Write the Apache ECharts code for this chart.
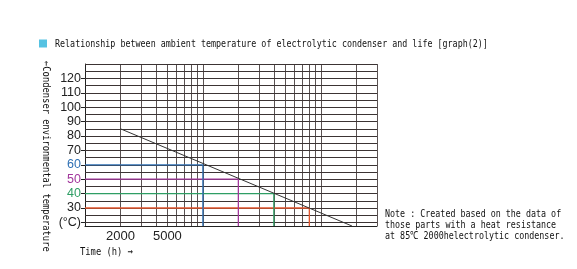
<!DOCTYPE html>
<html>
<head>
<meta charset="utf-8">
<script src="https://cdn.jsdelivr.net/npm/echarts@6/dist/echarts.min.js"></script>
<style>
  html, body { margin: 0; padding: 0; background: #fff; }
  #chart { width: 577px; height: 269px; }
</style>
</head>
<body>
<div id="chart"></div>
<script>
// axis ranges
const TIME_MIN = 1000
const TIME_MAX = 300000
const TEMP_MIN = 17.5
const TEMP_MAX = 130

// grid lines (log-spaced hours, 5 degree steps)
const X_GRID = [2000, 3000, 4000, 5000, 6000, 7000, 8000, 9000, 10000,
  20000, 30000, 40000, 50000, 60000, 70000, 80000, 90000, 100000, 200000, 300000]
const Y_GRID = [20, 25, 30, 35, 40, 45, 50, 55, 60, 65, 70, 75, 80, 85, 90, 95,
  100, 105, 110, 115, 120, 125, 130]

// tick labels
const X_LABELS = [2000, 5000]
const Y_LABELS = [20, 30, 40, 50, 60, 70, 80, 90, 100, 110, 120]

// life line: 85C / 2000h downwards
const LIFE_LINE = [[2000, 85], [184000, 17.5]]

// read-off guides [hours, temp]
const GUIDE_60 = [[1000, 60], [10000, 60], [10000, 17.5]]
const GUIDE_50 = [[1000, 50], [20000, 50], [20000, 17.5]]
const GUIDE_40 = [[1000, 40], [40000, 40], [40000, 17.5]]
const GUIDE_30 = [[1000, 30], [80000, 30], [80000, 17.5]]

const MONO = '"DejaVu Sans Mono", "Liberation Mono", monospace'

function labelColor(v) {
    if (v === 60) return '#2f70b4'
    if (v === 50) return '#a2379c'
    if (v === 40) return '#2e9e64'
    return '#222'
}

function guide(data, color) {
    return {
        type: 'line',
        data: data,
        symbol: 'none',
        silent: true,
        z: 4,
        lineStyle: { color: color, width: 1.3 }
    }
}

// narrow monospace text, squeezed to ~5px per character like the original
function monoText(x, y, text, sx, extra) {
    return Object.assign({
        type: 'text',
        x: x,
        y: y,
        scaleX: sx,
        silent: true,
        style: {
            text: text,
            font: '11px ' + MONO,
            fill: '#111',
            verticalAlign: 'middle',
            align: 'left'
        }
    }, extra || {})
}

const chart = echarts.init(document.getElementById('chart'), null, { renderer: 'canvas' })

chart.setOption({
    animation: false,
    backgroundColor: '#fff',
    grid: { left: 85, right: 200, top: 64, bottom: 43 },
    xAxis: {
        type: 'log',
        logBase: 10,
        min: TIME_MIN,
        max: TIME_MAX,
        axisLine: { show: true, onZero: false, lineStyle: { color: '#222', width: 1 } },
        axisTick: { show: false },
        splitLine: { show: false },
        axisLabel: {
            customValues: X_LABELS,
            formatter: v => String(Math.round(v)),
            color: '#222',
            fontSize: 13,
            fontFamily: '"Liberation Sans", Arial, sans-serif',
            margin: 4
        }
    },
    yAxis: {
        type: 'value',
        min: TEMP_MIN,
        max: TEMP_MAX,
        axisLine: { show: true, lineStyle: { color: '#222', width: 1 } },
        axisTick: { show: true, customValues: Y_LABELS, length: 4, lineStyle: { color: '#222' } },
        splitLine: { show: false },
        axisLabel: {
            customValues: Y_LABELS,
            formatter: v => (v === 20 ? '(°C)' : String(v)),
            color: v => labelColor(Number(v)),
            fontSize: 12.5,
            fontFamily: '"Liberation Sans", Arial, sans-serif',
            margin: 4
        }
    },
    series: [
        {
            type: 'line',
            data: [],
            silent: true,
            markLine: {
                silent: true,
                symbol: ['none', 'none'],
                label: { show: false },
                emphasis: { disabled: true },
                z: 1,
                data: X_GRID.map(v => ({ xAxis: v, lineStyle: { color: '#5a5252', width: 1, type: 'solid' } }))
                    .concat(Y_GRID.map(v => ({ yAxis: v, lineStyle: { color: '#3c3434', width: 1, type: 'solid' } })))
            }
        },
        guide(GUIDE_30, '#e2562e'),
        guide(GUIDE_40, '#2e9e64'),
        guide(GUIDE_50, '#a2379c'),
        guide(GUIDE_60, '#2f70b4'),
        {
            type: 'line',
            data: LIFE_LINE,
            symbol: 'none',
            silent: true,
            z: 5,
            lineStyle: { color: '#333', width: 1 }
        }
    ],
    graphic: [
        { type: 'rect', shape: { x: 39, y: 39.5, width: 8, height: 8 }, style: { fill: '#56c2e2' }, silent: true },
        monoText(55, 44, 'Relationship between ambient temperature of electrolytic condenser and life [graph(2)]', 0.76),
        monoText(46, 61, '←Condenser environmental temperature', 0.8, { rotation: -Math.PI / 2 }),
        monoText(80, 252, 'Time (h) →', 0.8),
        monoText(385, 214, 'Note : Created based on the data of', 0.76),
        monoText(385, 225, 'those parts with a heat resistance', 0.76),
        monoText(385, 236, 'at 85℃ 2000helectrolytic condenser.', 0.76)
    ]
})
</script>
</body>
</html>
